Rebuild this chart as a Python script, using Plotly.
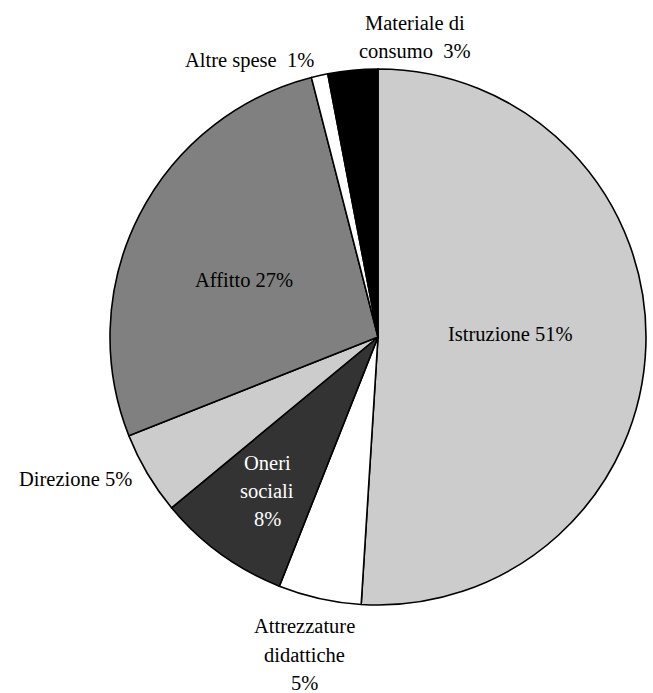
import plotly.graph_objects as go

categories = ["Istruzione", "Attrezzature didattiche", "Oneri sociali", "Direzione",
              "Affitto", "Altre spese", "Materiale di consumo"]
values = [51, 5, 8, 5, 27, 1, 3]
colors = ["#cccccc", "#ffffff", "#333333", "#cccccc", "#808080", "#ffffff", "#000000"]

W, H = 653, 693
cx, cy, r = 378, 337, 268

fig = go.Figure(go.Pie(
    labels=categories, values=values, sort=False, direction="clockwise", rotation=0,
    marker=dict(colors=colors, line=dict(color="black", width=1.6)),
    textinfo="none", hoverinfo="label+percent", showlegend=False,
    domain=dict(x=[(cx - r) / W, (cx + r) / W], y=[1 - (cy + r) / H, 1 - (cy - r) / H]),
))

FONT = "Liberation Serif, Times New Roman, serif"
# (line text, x, y, colour)
label_lines = [
    ("Istruzione 51%", 510, 334, "black"),
    ("Affitto 27%", 244, 280, "black"),
    ("Oneri", 267, 463, "white"),
    ("sociali", 267, 491, "white"),
    ("8%", 267, 519, "white"),
    ("Direzione 5%", 75, 479, "black"),
    ("Attrezzature", 304, 626, "black"),
    ("didattiche", 304, 655, "black"),
    ("5%", 304, 683, "black"),
    ("Altre spese  1%", 249, 61, "black"),
    ("Materiale di", 415, 23, "black"),
    ("consumo  3%", 415, 51, "black"),
]
ann = []
for text, x, y, col in label_lines:
    ann.append(dict(text=text, x=x / W, y=1 - y / H, xref="paper", yref="paper",
                    showarrow=False, xanchor="center", yanchor="middle",
                    font=dict(family=FONT, size=20.5, color=col)))

fig.update_layout(width=W, height=H, margin=dict(l=0, r=0, t=0, b=0),
                  paper_bgcolor="white", plot_bgcolor="white", annotations=ann)
fig.write_html("out.html", config={"displayModeBar": False},
               post_script="document.body.style.margin='0';")
